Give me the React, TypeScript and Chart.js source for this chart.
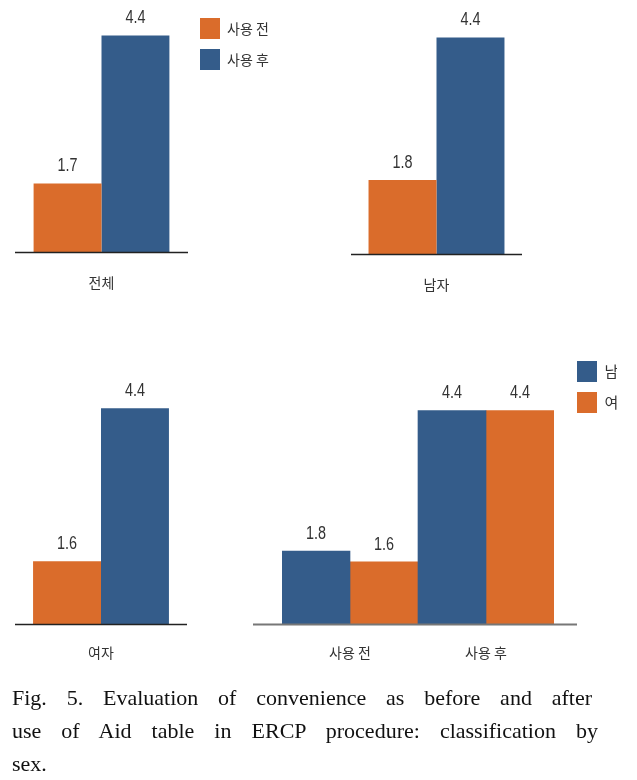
import React, { useEffect, useRef } from 'react';
import { Chart, registerables } from 'chart.js';

Chart.register(...registerables);

// ---------- data ----------
const phaseLabels = ['사용 전', '사용 후'];
const sexLabels = ['남', '여'];
const totalCategory = ['전체'];
const maleCategory = ['남자'];
const femaleCategory = ['여자'];
const totalBefore = [1.7];
const totalAfter = [4.4];
const maleBefore = [1.8];
const maleAfter = [4.4];
const femaleBefore = [1.6];
const femaleAfter = [4.4];
const maleByPhase = [1.8, 4.4];
const femaleByPhase = [1.6, 4.4];

const captionLines = [
  'Fig. 5. Evaluation of convenience as before and after',
  'use of Aid table in ERCP procedure: classification by',
  'sex.',
];

// ---------- style ----------
const ORANGE = '#DA6C2B';
const BLUE = '#345C8A';
const KR = "'Noto Sans CJK KR', 'Noto Sans', sans-serif";
const NUM = "'Liberation Sans', 'Noto Sans', sans-serif";

const valueLabels = {
  id: 'valueLabels',
  afterDatasetsDraw(chart: any, _args: any, opts: any) {
    const ctx = chart.ctx;
    chart.data.datasets.forEach((ds: any, i: number) => {
      const meta = chart.getDatasetMeta(i);
      meta.data.forEach((el: any, j: number) => {
        ctx.save();
        ctx.font = `${opts.size || 18}px ${NUM}`;
        ctx.fillStyle = '#333';
        ctx.textAlign = 'center';
        ctx.textBaseline = 'middle';
        ctx.translate(el.x, el.y - (opts.offset ?? 17));
        ctx.scale(opts.squeeze || 0.8, 1);
        ctx.fillText(Number(ds.data[j]).toFixed(1), 0, 0);
        ctx.restore();
      });
    });
  },
};

const baseline = {
  id: 'baseline',
  afterDatasetsDraw(chart: any, _args: any, opts: any) {
    const { ctx, chartArea } = chart;
    ctx.save();
    ctx.strokeStyle = opts.color || '#222';
    ctx.lineWidth = opts.width || 1.5;
    ctx.beginPath();
    const y = chartArea.bottom + 0.5;
    ctx.moveTo(chartArea.left - (opts.extendLeft || 0), y);
    ctx.lineTo(chartArea.right + (opts.extendRight || 0), y);
    ctx.stroke();
    ctx.restore();
  },
};

type Cfg = {
  labels: string[];
  datasets: { label: string; data: number[]; color: string }[];
  yMax: number;
  padding: { top: number; left: number; right: number; bottom: number };
  legend?: { maxWidth: number; fontSize: number };
  yWidth: number;
  tickPadding: number;
  catPct: number;
  line: { color: string; width: number; extendLeft: number; extendRight: number };
};

function buildConfig(c: Cfg): any {
  return {
    type: 'bar',
    data: {
      labels: c.labels,
      datasets: c.datasets.map((d) => ({
        label: d.label,
        data: d.data,
        backgroundColor: d.color,
        borderWidth: 0,
      })),
    },
    options: {
      responsive: false,
      animation: false,
      devicePixelRatio: 1,
      layout: { padding: c.padding },
      datasets: { bar: { categoryPercentage: c.catPct, barPercentage: 1 } },
      scales: {
        x: {
          grid: { display: false, drawTicks: false },
          border: { display: false },
          ticks: {
            color: '#333',
            padding: c.tickPadding,
            font: { family: KR, size: 14, lineHeight: '20px' },
          },
        },
        y: {
          position: 'right',
          display: c.yWidth > 0,
          min: 0.45,
          max: c.yMax,
          ticks: { display: false },
          grid: { display: false },
          border: { display: false },
          afterFit: (s: any) => {
            s.width = c.yWidth;
          },
        },
      },
      plugins: {
        legend: c.legend
          ? {
              display: true,
              position: 'right',
              align: 'start',
              maxWidth: c.legend.maxWidth,
              labels: {
                boxWidth: 20,
                boxHeight: 21,
                padding: 10,
                color: '#333',
                font: { family: KR, size: c.legend.fontSize },
              },
            }
          : { display: false },
        tooltip: { enabled: false },
        valueLabels: { offset: 17, size: 18, squeeze: 0.8 },
        baseline: c.line,
      },
    },
    plugins: [valueLabels, baseline],
  };
}

function ChartBox(props: { left: number; top: number; width: number; height: number; cfg: Cfg }) {
  const ref = useRef<HTMLCanvasElement>(null);
  useEffect(() => {
    const chart = new Chart(ref.current as HTMLCanvasElement, buildConfig(props.cfg));
    return () => chart.destroy();
  }, []);
  return (
    <canvas
      ref={ref}
      width={props.width}
      height={props.height}
      style={{ position: 'absolute', left: props.left, top: props.top, width: props.width, height: props.height }}
    />
  );
}

const darkLine = { color: '#222', width: 1.5, extendLeft: 0, extendRight: 0 };

export default function App() {
  return (
    <div style={{ position: 'absolute', left: 0, top: 0, width: 637, height: 780, background: '#fff', overflow: 'hidden' }}>
      <ChartBox
        left={0}
        top={0}
        width={320}
        height={321}
        cfg={{
          labels: totalCategory,
          datasets: [
            { label: phaseLabels[0], data: totalBefore, color: ORANGE },
            { label: phaseLabels[1], data: totalAfter, color: BLUE },
          ],
          yMax: 4.9,
          padding: { top: 8, left: 15, right: 50, bottom: 7 },
          legend: { maxWidth: 80, fontSize: 14 },
          yWidth: 2,
          tickPadding: 21,
          catPct: 0.785,
          line: darkLine,
        }}
      />
      <ChartBox
        left={320}
        top={0}
        width={317}
        height={321}
        cfg={{
          labels: maleCategory,
          datasets: [
            { label: phaseLabels[0], data: maleBefore, color: ORANGE },
            { label: phaseLabels[1], data: maleAfter, color: BLUE },
          ],
          yMax: 4.9,
          padding: { top: 10, left: 31, right: 115, bottom: 5 },
          yWidth: 0,
          tickPadding: 21,
          catPct: 0.795,
          line: darkLine,
        }}
      />
      <ChartBox
        left={0}
        top={340}
        width={240}
        height={359}
        cfg={{
          labels: femaleCategory,
          datasets: [
            { label: phaseLabels[0], data: femaleBefore, color: ORANGE },
            { label: phaseLabels[1], data: femaleAfter, color: BLUE },
          ],
          yMax: 4.9,
          padding: { top: 41, left: 15, right: 53, bottom: 17 },
          yWidth: 0,
          tickPadding: 19,
          catPct: 0.79,
          line: darkLine,
        }}
      />
      <ChartBox
        left={240}
        top={340}
        width={397}
        height={359}
        cfg={{
          labels: phaseLabels,
          datasets: [
            { label: sexLabels[0], data: maleByPhase, color: BLUE },
            { label: sexLabels[1], data: femaleByPhase, color: ORANGE },
          ],
          yMax: 5.5,
          padding: { top: 11, left: 42, right: 20, bottom: 17 },
          legend: { maxWidth: 50, fontSize: 15 },
          yWidth: 13,
          tickPadding: 19,
          catPct: 1,
          line: { color: '#777', width: 2, extendLeft: 29, extendRight: 23 },
        }}
      />
      <div
        style={{
          position: 'absolute',
          left: 12,
          top: 681,
          width: 586,
          fontFamily: "'Liberation Serif', 'Times New Roman', serif",
          fontSize: 22,
          lineHeight: '33px',
          color: '#111',
        }}
      >
        {captionLines.map((line, i) => (
          <div
            key={i}
            style={{
              textAlign: i < captionLines.length - 1 ? 'justify' : 'left',
              textAlignLast: i < captionLines.length - 1 ? 'justify' : 'left',
              width: i === 0 ? 580 : 586,
              whiteSpace: 'nowrap',
            }}
          >
            {line}
          </div>
        ))}
      </div>
    </div>
  );
}
